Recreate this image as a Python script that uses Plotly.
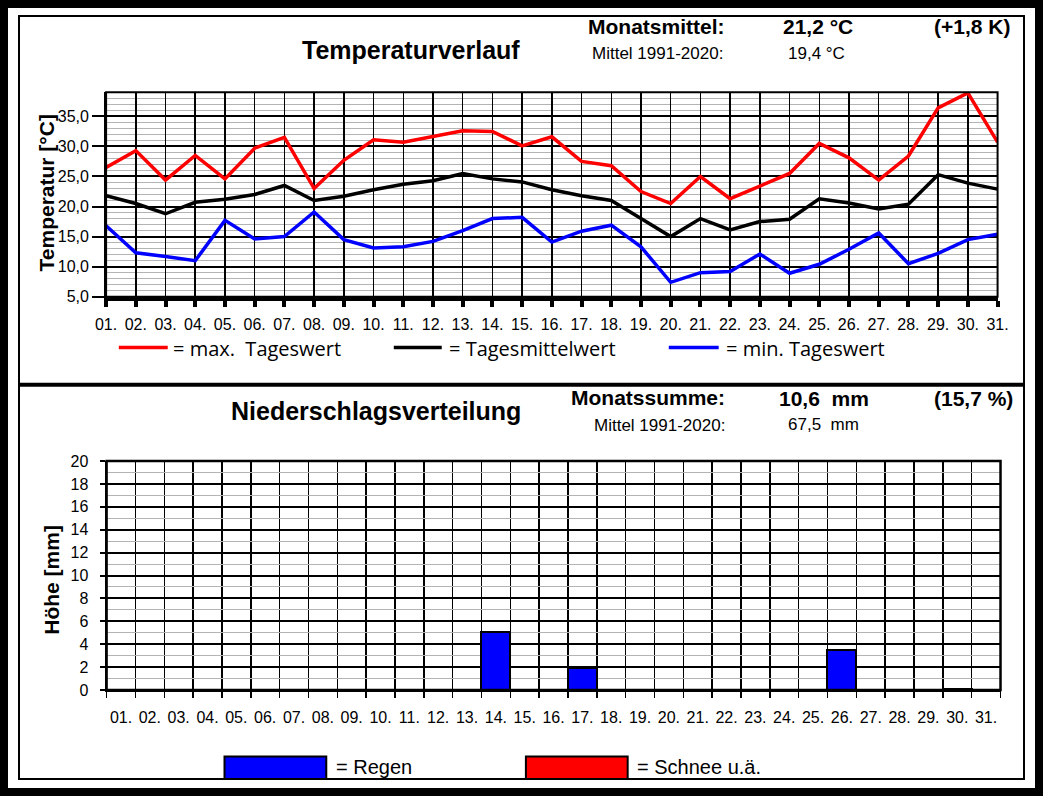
import plotly.graph_objects as go

# The page keeps the browser's 8px body margin, so the figure is sized to fit the window exactly.
# All positions below are given in page pixels of the 1043x796 reference.
W, H = 1027, 780
OFF = 8

day_labels = ["01.", "02.", "03.", "04.", "05.", "06.", "07.", "08.", "09.", "10.",
              "11.", "12.", "13.", "14.", "15.", "16.", "17.", "18.", "19.", "20.",
              "21.", "22.", "23.", "24.", "25.", "26.", "27.", "28.", "29.", "30.", "31."]
days = [1, 2, 3, 4, 5, 6, 7, 8, 9, 10, 11, 12, 13, 14, 15, 16,
        17, 18, 19, 20, 21, 22, 23, 24, 25, 26, 27, 28, 29, 30, 31]

t_max = [26.5, 29.3, 24.4, 28.5, 24.6, 29.7, 31.5, 23.0, 27.7, 31.1, 30.7, 31.7, 32.6, 32.5, 30.1, 31.6,
         27.5, 26.8, 22.5, 20.5, 25.0, 21.3, 23.4, 25.5, 30.5, 28.1, 24.4, 28.4, 36.4, 38.9, 30.7]
t_mean = [21.8, 20.5, 18.8, 20.7, 21.2, 22.0, 23.5, 21.0, 21.7, 22.8, 23.7, 24.3, 25.5, 24.6, 24.1, 22.8,
          21.8, 21.0, 18.0, 15.0, 18.0, 16.1, 17.5, 17.9, 21.3, 20.6, 19.6, 20.4, 25.3, 23.9, 22.9]
t_min = [16.8, 12.3, 11.7, 11.0, 17.7, 14.6, 15.0, 19.1, 14.5, 13.1, 13.3, 14.2, 16.0, 18.0, 18.2, 14.1,
         15.9, 16.9, 13.3, 7.4, 9.0, 9.2, 12.1, 8.9, 10.4, 12.9, 15.6, 10.5, 12.2, 14.5, 15.4]

rain = [0, 0, 0, 0, 0, 0, 0, 0, 0, 0, 0, 0, 0, 5.1, 0, 0,
        1.9, 0, 0, 0, 0, 0, 0, 0, 0, 3.5, 0, 0, 0, 0.1, 0]
snow = [0, 0, 0, 0, 0, 0, 0, 0, 0, 0, 0, 0, 0, 0, 0, 0,
        0, 0, 0, 0, 0, 0, 0, 0, 0, 0, 0, 0, 0, 0, 0]

temp_ticks = [5, 10, 15, 20, 25, 30, 35]
temp_ticktext = ["5,0", "10,0", "15,0", "20,0", "25,0", "30,0", "35,0"]
rain_ticks = [0, 2, 4, 6, 8, 10, 12, 14, 16, 18, 20]

ARIAL = "Liberation Sans, Arial, sans-serif"
CAL = "Open Sans, sans-serif"


def px(x):
    """page x pixel -> paper fraction"""
    return (x - OFF) / W


def py(y):
    """page y pixel -> paper fraction"""
    return 1 - (y - OFF) / H


fig = go.Figure()

for vals, col in [(t_max, "#ff0000"), (t_mean, "#000000"), (t_min, "#0000ff")]:
    fig.add_trace(go.Scatter(x=days, y=vals, mode="lines", line=dict(color=col, width=3.5),
                             xaxis="x", yaxis="y", showlegend=False))

fig.add_trace(go.Bar(x=days, y=rain, width=1, marker=dict(color="#0000ff", line=dict(color="black", width=2)),
                     xaxis="x2", yaxis="y2", showlegend=False))
fig.add_trace(go.Bar(x=days, y=snow, width=1, marker=dict(color="#ff0000", line=dict(color="black", width=0)),
                     xaxis="x2", yaxis="y2", showlegend=False))

tick_font = dict(family=ARIAL, size=16, color="black")

fig.update_layout(
    width=W, height=H,
    margin=dict(l=0, r=0, t=0, b=0),
    paper_bgcolor="white", plot_bgcolor="white",
    barmode="stack", bargap=0,
    xaxis=dict(domain=[px(97), px(1008)], range=[1, 31], tickmode="array", tickvals=days, ticktext=day_labels,
               showgrid=True, gridcolor="black", gridwidth=1.5, zeroline=False,
               showline=True, linecolor="black", linewidth=4,
               ticks="outside", ticklen=6, tickwidth=4, tickcolor="black",
               tickfont=tick_font, ticklabelstandoff=4, anchor="y", fixedrange=True),
    yaxis=dict(domain=[py(295), py(86)], range=[5, 39], tickmode="array", tickvals=temp_ticks,
               ticktext=temp_ticktext, showgrid=True, gridcolor="black", gridwidth=2, zeroline=False,
               showline=True, linecolor="black", linewidth=2,
               ticks="outside", ticklen=12, tickwidth=2, tickcolor="black",
               minor=dict(tick0=5, dtick=1, showgrid=True, gridcolor="#b4b4b4", gridwidth=1, ticks=""),
               tickfont=tick_font, anchor="x", fixedrange=True),
    xaxis2=dict(domain=[px(97.5), px(1011)], range=[0.5, 31.5], tickmode="array", tickvals=days,
                ticktext=day_labels, showgrid=False, zeroline=False, ticks="",
                minor=dict(tick0=0.5, dtick=1, showgrid=True, gridcolor="black", gridwidth=1.5,
                           ticks="outside", ticklen=6, tickwidth=1.5, tickcolor="black"),
                showline=True, linecolor="black", linewidth=2,
                tickfont=tick_font, ticklabelstandoff=12, anchor="y2", fixedrange=True),
    yaxis2=dict(domain=[py(697), py(463)], range=[0, 20], tickmode="array", tickvals=rain_ticks,
                showgrid=True, gridcolor="black", gridwidth=2, zeroline=False,
                showline=True, linecolor="black", linewidth=2,
                ticks="outside", ticklen=5, tickwidth=2, tickcolor="black",
                minor=dict(tick0=0, dtick=1, showgrid=True, gridcolor="#b4b4b4", gridwidth=1, ticks=""),
                tickfont=tick_font, ticklabelstandoff=8, anchor="x2", fixedrange=True),
)

shapes = []
# plot borders
shapes.append(dict(type="rect", xref="x domain", yref="y domain", x0=0, x1=1, y0=0, y1=1,
                   line=dict(color="black", width=2), layer="above"))
shapes.append(dict(type="rect", xref="x2 domain", yref="y2 domain", x0=0, x1=1, y0=0, y1=1,
                   line=dict(color="black", width=2.5), layer="above"))
# thin frame at the figure edge (the black page margin forms the rest of the outer frame)
shapes.append(dict(type="rect", xref="paper", yref="paper", x0=0, x1=1, y0=0, y1=1,
                   line=dict(color="black", width=2)))
# divider between the two panels
shapes.append(dict(type="line", xref="paper", yref="paper", x0=0, x1=1, y0=py(385), y1=py(385),
                   line=dict(color="black", width=4)))
# top legend lines
for (x0, x1, c) in [(110, 160, "#ff0000"), (391, 440, "#000000"), (672, 723, "#0000ff")]:
    shapes.append(dict(type="line", xref="paper", yref="paper", x0=px(x0), x1=px(x1), y0=py(347), y1=py(347),
                       line=dict(color=c, width=3.5)))
# bottom legend boxes (their lower edge meets the outer frame)
for (x0, x1, c) in [(218, 322, "#0000ff"), (526, 630, "#ff0000")]:
    shapes.append(dict(type="rect", xref="paper", yref="paper", x0=px(x0), x1=px(x1), y0=0, y1=py(765),
                       fillcolor=c, line=dict(color="black", width=2)))
fig.update_layout(shapes=shapes)


def ann(text, x, y, size, bold=False, family=ARIAL, xanchor="left", angle=0):
    t = "<b>" + text + "</b>" if bold else text
    return dict(text=t, x=px(x), y=py(y), xref="paper", yref="paper", xanchor=xanchor, yanchor="middle",
                showarrow=False, textangle=angle, font=dict(family=family, size=size, color="black"),
                borderpad=0)


NB = "\u00a0"
annotations = [
    ann("Temperaturverlauf", 409, 43, 25, bold=True, xanchor="center"),
    ann("Monatsmittel:", 588, 19, 21, bold=True),
    ann("21,2 °C", 788, 19, 21, bold=True),
    ann("(+1,8 K)", 942, 19, 21, bold=True),
    ann("Mittel 1991-2020:", 593, 46, 17),
    ann("19,4 °C", 793, 46, 17),
    ann("Temperatur [°C]", 36, 189, 21, bold=True, xanchor="center", angle=-90),
    ann("=" + NB + "max." + NB + NB + "Tageswert", 164, 348, 20, family=CAL),
    ann("=" + NB + "Tagesmittelwert", 446, 348, 20, family=CAL),
    ann("=" + NB + "min." + NB + "Tageswert", 729, 348, 20, family=CAL),
    ann("Niederschlagsverteilung", 373, 412, 25, bold=True, xanchor="center"),
    ann("Monatssumme:", 571, 398, 21, bold=True),
    ann("10,6" + NB + NB + "mm", 784, 399, 21, bold=True),
    ann("(15,7 %)", 942, 399, 21, bold=True),
    ann("Mittel 1991-2020:", 595, 427, 17),
    ann("67,5" + NB + NB + "mm", 793, 426, 17),
    ann("Höhe [mm]", 41, 584, 21, bold=True, xanchor="center", angle=-90),
    ann("= Regen", 331, 776, 20),
    ann("= Schnee u.ä.", 638, 776, 20),
]
fig.update_layout(annotations=annotations)

fig.write_html(
    "out.html",
    config={"displayModeBar": False, "staticPlot": True},
    post_script="document.body.style.background='#000000';",
)
